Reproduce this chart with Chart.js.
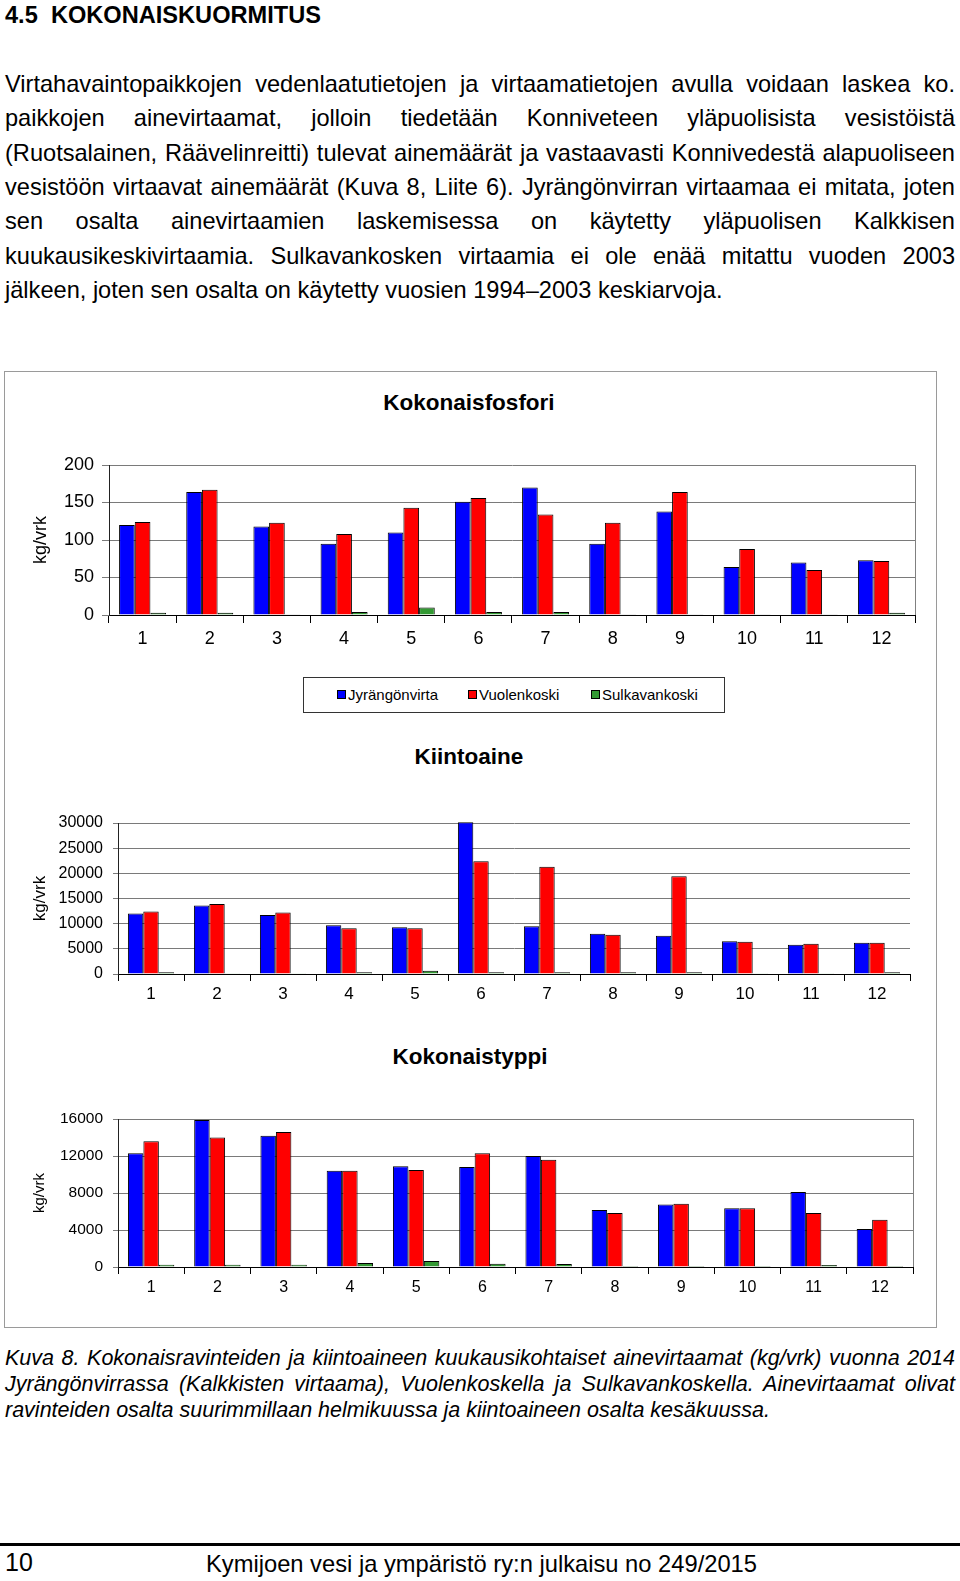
<!DOCTYPE html>
<html><head><meta charset="utf-8">
<script src="https://cdn.jsdelivr.net/npm/chart.js@4.4.1/dist/chart.umd.min.js"></script>
<style>
html,body{margin:0;padding:0;background:#fff;}
body{width:960px;height:1581px;position:relative;overflow:hidden;font-family:"Liberation Sans",Arial,sans-serif;color:#000;}
.abs{position:absolute;white-space:nowrap;}
.pline{position:absolute;left:5px;white-space:nowrap;font-size:23.6px;height:34px;line-height:34px;}
.cline{position:absolute;left:5px;white-space:nowrap;font-size:21.5px;font-style:italic;height:26px;line-height:26px;}
.ctitle{position:absolute;font-weight:bold;font-size:22.5px;white-space:nowrap;transform:translateX(-50%);height:28px;line-height:28px;}
canvas{position:absolute;}
#box{position:absolute;left:4px;top:371px;width:931px;height:955px;border:1px solid #9a9a9a;}
#legend{position:absolute;left:303px;top:677px;width:420px;height:34px;border:1px solid #333;background:#fff;}
.lsq{position:absolute;width:7px;height:7px;border:1px solid #000;}
.ltx{position:absolute;font-size:15px;height:20px;line-height:20px;white-space:nowrap;}
#rule{position:absolute;left:0;top:1543px;width:960px;height:3px;background:#000;}
</style>
</head><body>
<div class="abs" style="left:5px;top:1px;font-size:23.6px;font-weight:bold;height:28px;line-height:28px;">4.5&nbsp; KOKONAISKUORMITUS</div>
<div id="para"></div>
<div id="box"></div>
<div class="ctitle" style="left:469px;top:389px;">Kokonaisfosfori</div>
<div class="ctitle" style="left:469px;top:743px;">Kiintoaine</div>
<div class="ctitle" style="left:470px;top:1043px;">Kokonaistyppi</div>
<canvas id="c1"></canvas>
<canvas id="c2"></canvas>
<canvas id="c3"></canvas>
<div id="legend"></div>
<div id="caption"></div>
<div id="rule"></div>
<div class="abs" style="left:5px;top:1548px;font-size:25px;height:28px;line-height:28px;">10</div>
<div class="abs" id="foot" style="left:206px;top:1550px;font-size:24px;height:28px;line-height:28px;transform-origin:0 50%;">Kymijoen vesi ja ympäristö ry:n julkaisu no 249/2015</div>
<script>
// ---- text ----
const paraLines = [
  "Virtahavaintopaikkojen vedenlaatutietojen ja virtaamatietojen avulla voidaan laskea ko.",
  "paikkojen ainevirtaamat, jolloin tiedetään Konniveteen yläpuolisista vesistöistä",
  "(Ruotsalainen, Räävelinreitti) tulevat ainemäärät ja vastaavasti Konnivedestä alapuoliseen",
  "vesistöön virtaavat ainemäärät (Kuva 8, Liite 6). Jyrängönvirran virtaamaa ei mitata, joten",
  "sen osalta ainevirtaamien laskemisessa on käytetty yläpuolisen Kalkkisen",
  "kuukausikeskivirtaamia. Sulkavankosken virtaamia ei ole enää mitattu vuoden 2003",
  "jälkeen, joten sen osalta on käytetty vuosien 1994–2003 keskiarvoja."
];
const captionLines = [
  "Kuva 8. Kokonaisravinteiden ja kiintoaineen kuukausikohtaiset ainevirtaamat (kg/vrk) vuonna 2014",
  "Jyrängönvirrassa (Kalkkisten virtaama), Vuolenkoskella ja Sulkavankoskella. Ainevirtaamat olivat",
  "ravinteiden osalta suurimmillaan helmikuussa ja kiintoaineen osalta kesäkuussa."
];
// ---- data ----
const months = ["1","2","3","4","5","6","7","8","9","10","11","12"];
const seriesNames = ["Jyrängönvirta","Vuolenkoski","Sulkavankoski"];
const seriesColors = ["#0000ff","#ff0000","#339933"];
const fosforiJyr = [120,164,118,95,110,151,170,95,138,64,70,73];
const fosforiVuo = [124,167,123,108,143,156,134,123,164,88,60,72];
const fosforiSul = [3,3,1,4,10,4,4,1,1,1,1,3];
const kiintoJyr = [12000,13600,11700,9700,9300,30150,9500,8000,7600,6500,5800,6200];
const kiintoVuo = [12400,13900,12200,9100,9100,22400,21300,7800,19400,6400,6000,6200];
const kiintoSul = [330,150,150,330,660,330,330,330,330,150,150,330];
const typpiJyr = [12300,15900,14200,10400,10900,10800,12000,6150,6750,6350,8100,4100];
const typpiVuo = [13600,14000,14600,10400,10500,12300,11600,5850,6850,6350,5850,5100];
const typpiSul = [250,250,250,430,650,360,330,100,100,100,220,100];

// ---- layout text ----
function justify(el, width) {
  el.style.wordSpacing = '0px';
  const natural = el.getBoundingClientRect().width;
  const gaps = (el.textContent.match(/ /g) || []).length;
  if (gaps) el.style.wordSpacing = ((width - natural) / gaps) + 'px';
}
const para = document.getElementById('para');
paraLines.forEach((t, i) => {
  const d = document.createElement('div');
  d.className = 'pline'; d.textContent = t;
  d.style.top = (84 + i * 34.35 - 17) + 'px';
  para.appendChild(d);
  if (i < paraLines.length - 1) justify(d, 950);
});
const cap = document.getElementById('caption');
captionLines.forEach((t, i) => {
  const d = document.createElement('div');
  d.className = 'cline'; d.textContent = t;
  d.style.top = (1358 + i * 25.8 - 13) + 'px';
  cap.appendChild(d);
  if (i < captionLines.length - 1) justify(d, 950);
});
const foot = document.getElementById('foot');
const fw = foot.getBoundingClientRect().width;
foot.style.transform = 'scaleX(' + (551 / fw) + ')';

// legend
const legend = document.getElementById('legend');
const legX = [33, 164, 287];
seriesNames.forEach((n, i) => {
  const sq = document.createElement('div');
  sq.className = 'lsq'; sq.style.background = seriesColors[i];
  sq.style.left = legX[i] + 'px'; sq.style.top = '12px';
  legend.appendChild(sq);
  const tx = document.createElement('div');
  tx.className = 'ltx'; tx.textContent = n;
  tx.style.left = (legX[i] + 11) + 'px'; tx.style.top = '7px';
  legend.appendChild(tx);
});

// ---- charts ----
const framePlugin = {
  id: 'frame',
  afterDraw(chart, args, opts) {
    if (!opts.right) return;
    const {ctx, chartArea: a} = chart;
    ctx.save();
    ctx.strokeStyle = '#808080'; ctx.lineWidth = 1;
    const x = Math.round(a.right) + 0.5;
    ctx.beginPath(); ctx.moveTo(x, a.top); ctx.lineTo(x, a.bottom); ctx.stroke();
    ctx.restore();
  }
};
Chart.register(framePlugin);

function makeChart(id, g, a, b, c) {
  const cv = document.getElementById(id);
  cv.width = g.w; cv.height = g.h;
  cv.style.left = g.x + 'px'; cv.style.top = g.y + 'px';
  cv.style.width = g.w + 'px'; cv.style.height = g.h + 'px';
  const sets = [a, b, c].map((d, i) => ({
    label: seriesNames[i], data: d,
    backgroundColor: seriesColors[i], borderColor: '#000', borderWidth: 1,
    categoryPercentage: 0.7, barPercentage: 1.0, clip: false
  }));
  return new Chart(cv, {
    type: 'bar',
    data: { labels: months, datasets: sets },
    options: {
      responsive: false, animation: false, devicePixelRatio: 1,
      layout: { padding: { top: g.pt, right: g.pr, left: 0, bottom: 0 } },
      plugins: { legend: { display: false }, tooltip: { enabled: false }, frame: { right: g.frame } },
      scales: {
        x: {
          offset: true,
          grid: { offset: true, drawOnChartArea: false, drawTicks: true, tickLength: g.xtl, color: '#000' },
          border: { display: true, color: '#000' },
          ticks: { color: '#000', font: { family: 'Liberation Sans', size: g.xfs }, padding: g.xpad, maxRotation: 0 },
          afterFit: s => { s.height = g.xh; }
        },
        y: {
          min: 0, max: g.max,
          ticks: { stepSize: g.step, color: '#000', font: { family: 'Liberation Sans', size: g.yfs }, padding: g.ypad,
                   callback: v => String(v) },
          grid: { color: '#7a7a7a', drawTicks: true, tickLength: g.ytl },
          border: { display: true, color: '#222' },
          title: { display: true, text: 'kg/vrk', color: '#000', font: { family: 'Liberation Sans', size: g.tfs }, padding: { top: g.tpad, bottom: 0 } },
          afterFit: s => { s.width = g.yw; }
        }
      }
    }
  });
}

makeChart('c1', { x: 5, y: 420, w: 920, h: 245, pt: 45, pr: 10, yw: 104, xh: 50, max: 200, step: 50,
  xfs: 18, yfs: 18, tfs: 18, xtl: 8, ytl: 7, xpad: 5, ypad: 8, tpad: 25, frame: true },
  fosforiJyr, fosforiVuo, fosforiSul);
makeChart('c2', { x: 5, y: 795, w: 920, h: 215, pt: 28, pr: 15, yw: 113, xh: 36, max: 30000, step: 5000,
  xfs: 17, yfs: 16, tfs: 17, xtl: 7, ytl: 5, xpad: 3, ypad: 10, tpad: 25, frame: false },
  kiintoJyr, kiintoVuo, kiintoSul);
makeChart('c3', { x: 5, y: 1091, w: 920, h: 215, pt: 28, pr: 12, yw: 113, xh: 39, max: 16000, step: 4000,
  xfs: 16, yfs: 15.5, tfs: 15, xtl: 7, ytl: 5, xpad: 4, ypad: 10, tpad: 26, frame: true },
  typpiJyr, typpiVuo, typpiSul);
</script>
</body></html>
